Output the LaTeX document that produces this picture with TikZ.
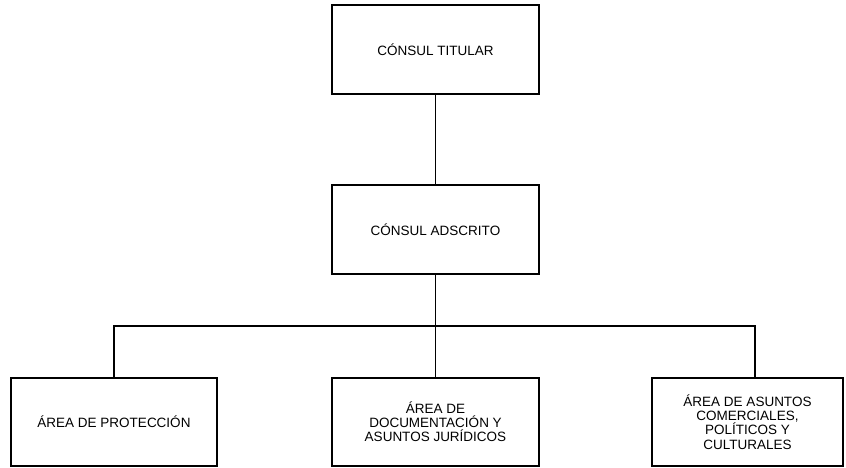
\documentclass[tikz,border=0pt]{standalone}
\usepackage{fontspec}
\setmainfont{Liberation Sans}
\usepackage{tikz}

\begin{document}
\begin{tikzpicture}[x=1pt,y=-1pt,
    cargo/.style={draw,line width=1.8pt,minimum width=207pt,minimum height=89pt,
      align=center,font=\fontsize{13.5}{14.2}\selectfont,inner sep=2pt},
    enlace/.style={line width=1.8pt}]
      \useasboundingbox (0,0) rectangle (846,468);
      \pgfmathsetmacro{\bus}{326}
      % Jefatura
      \node[cargo] (titular) at (435.5,49.5) {CÓNSUL TITULAR};
      \node[cargo] (adscrito) at (435.5,229.5) {CÓNSUL ADSCRITO};
      % Areas
      \node[cargo,minimum width=206pt,minimum height=88pt] (proteccion) at (114,422) {ÁREA DE PROTECCIÓN};
      \node[cargo,minimum height=88pt] (documentacion) at (435.5,422) {ÁREA DE\\DOCUMENTACIÓN Y\\ASUNTOS JURÍDICOS};
      \node[cargo,minimum width=191pt,minimum height=88pt] (asuntos) at (747.5,422) {ÁREA DE ASUNTOS\\COMERCIALES,\\POLÍTICOS Y\\CULTURALES};
      % Lineas
      \coordinate (busL) at (proteccion.north |- 0,\bus);
      \coordinate (busR) at (755,\bus);
      \draw[enlace] (titular) -- (adscrito);
      \draw[enlace] (adscrito) -- (documentacion);
      \draw[enlace] (proteccion.north) -- (busL) -- (busR) -- (busR |- asuntos.north);
    \end{tikzpicture}
\end{document}
